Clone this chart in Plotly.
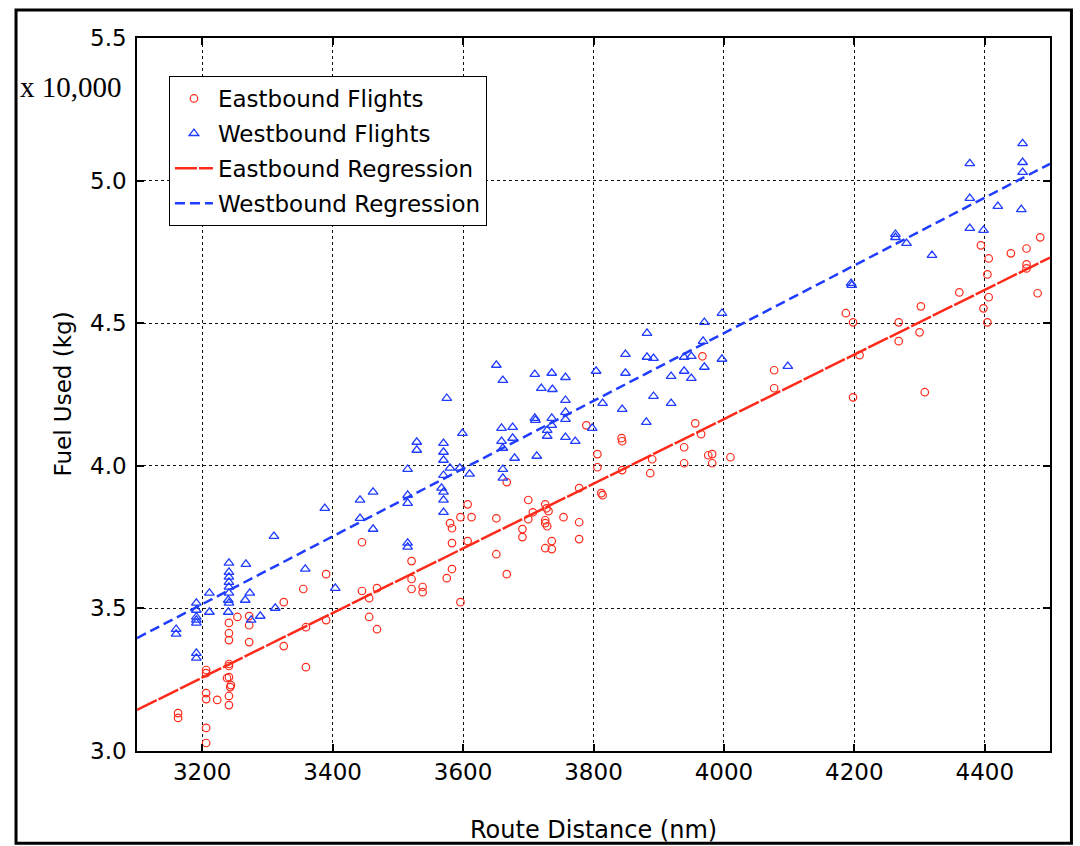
import plotly.graph_objects as go

# Route distance (nm) and fuel used (x 10,000 kg) for each eastbound flight
east_dist = [3325, 3254, 3272, 3272, 3241, 3241, 3241, 3272, 3325, 3241,
             3241, 3206, 3206, 3241, 3238, 3244, 3243, 3206, 3206, 3223,
             3241, 3241, 3163, 3163, 3206, 3206, 3445, 3521, 3390, 3355,
             3445, 3468, 3456, 3521, 3521, 3538, 3538, 3390, 3359, 3456,
             3468, 3359, 3789, 3843, 3844, 3956, 3806, 3806, 3939, 3890,
             3844, 3887, 3939, 3667, 3778, 3812, 3814, 3607, 3700, 3596,
             3613, 3651, 3707, 3726, 3728, 3731, 3700, 3726, 3726, 3729,
             3754, 3778, 3580, 3583, 3583, 3607, 3691, 3691, 3651, 3726,
             3736, 3736, 3778, 3583, 3575, 3667, 3596, 3976, 3982, 3982,
             4010, 3965, 4485, 4394, 4464, 4440, 4406, 4464, 4464, 4404,
             4361, 4481, 4406, 4302, 4398, 4404, 4187, 4198, 4268, 4268,
             4300, 4208, 3967, 4077, 4077, 4198, 4308]
east_fuel = [3.522, 3.470, 3.473, 3.441, 3.449, 3.413, 3.389, 3.382, 3.368, 3.305,
             3.298, 3.284, 3.273, 3.259, 3.256, 3.231, 3.224, 3.203, 3.182, 3.179,
             3.193, 3.161, 3.133, 3.116, 3.081, 3.028, 3.732, 3.666, 3.620, 3.568,
             3.561, 3.571, 3.536, 3.603, 3.568, 3.575, 3.557, 3.459, 3.434, 3.470,
             3.427, 3.294, 4.142, 4.097, 4.086, 4.149, 4.041, 3.995, 4.065, 4.023,
             3.985, 3.974, 4.009, 3.943, 3.922, 3.904, 3.897, 3.865, 3.880, 3.820,
             3.820, 3.816, 3.837, 3.865, 3.851, 3.841, 3.813, 3.809, 3.799, 3.788,
             3.820, 3.802, 3.799, 3.781, 3.729, 3.736, 3.778, 3.750, 3.690, 3.711,
             3.736, 3.708, 3.743, 3.638, 3.606, 3.620, 3.522, 4.037, 4.041, 4.009,
             4.030, 4.111, 4.801, 4.773, 4.762, 4.745, 4.727, 4.706, 4.692, 4.671,
             4.608, 4.605, 4.591, 4.559, 4.552, 4.503, 4.535, 4.503, 4.503, 4.437,
             4.468, 4.388, 4.384, 4.335, 4.272, 4.240, 4.258]

# Route distance (nm) and fuel used (x 10,000 kg) for each westbound flight
west_dist = [3241, 3267, 3241, 3241, 3241, 3241, 3211, 3241, 3240, 3241,
             3273, 3266, 3191, 3191, 3211, 3240, 3191, 3191, 3191, 3275,
             3289, 3312, 3160, 3160, 3191, 3191, 3310, 3358, 3404, 3388,
             3442, 3462, 3442, 3462, 3515, 3515, 3515, 3515, 3882, 3849,
             3882, 3892, 3651, 3661, 3710, 3736, 3757, 3804, 3849, 3919,
             3939, 3950, 3939, 3950, 3720, 3737, 3575, 3757, 3814, 3892,
             3919, 3844, 3757, 3710, 3711, 3736, 3736, 3757, 3881, 3798,
             3599, 3659, 3676, 3729, 3729, 3659, 3676, 3757, 3772, 3529,
             3529, 3570, 3570, 3570, 3661, 3679, 3713, 3580, 3595, 3610,
             3515, 3570, 3661, 3661, 3567, 3570, 3570, 3570, 4458, 4377,
             4458, 4458, 4377, 4420, 4456, 4377, 4398, 4263, 4263, 4280,
             4319, 4195, 4196, 3997, 3970, 3968, 3997, 3970, 4098]
west_fuel = [3.659, 3.655, 3.627, 3.610, 3.592, 3.575, 3.554, 3.554, 3.529, 3.519,
             3.554, 3.529, 3.519, 3.494, 3.487, 3.487, 3.470, 3.459, 3.449, 3.459,
             3.473, 3.501, 3.427, 3.410, 3.343, 3.326, 3.753, 3.638, 3.571, 3.851,
             3.880, 3.908, 3.816, 3.778, 3.897, 3.869, 3.729, 3.715, 4.465, 4.391,
             4.381, 4.377, 4.353, 4.300, 4.321, 4.325, 4.310, 4.332, 4.325, 4.314,
             4.381, 4.384, 4.332, 4.307, 4.272, 4.268, 4.237, 4.230, 4.219, 4.244,
             4.219, 4.198, 4.188, 4.167, 4.160, 4.167, 4.142, 4.163, 4.153, 4.132,
             4.114, 4.132, 4.135, 4.125, 4.104, 4.086, 4.097, 4.100, 4.086, 4.083,
             4.055, 4.079, 4.048, 4.020, 4.062, 4.027, 4.034, 3.992, 3.992, 3.971,
             3.988, 3.967, 3.988, 3.957, 3.922, 3.908, 3.880, 3.837, 5.130, 5.060,
             5.064, 5.029, 4.938, 4.910, 4.899, 4.833, 4.826, 4.812, 4.801, 4.780,
             4.738, 4.640, 4.633, 4.535, 4.503, 4.437, 4.374, 4.346, 4.349]

# Fitted regression lines, evaluated at the ends of the distance axis
reg_dist = [3100, 4500]
east_reg_fuel = [3.144, 4.730]
west_reg_fuel = [3.396, 5.059]

x_ticks = [3200, 3400, 3600, 3800, 4000, 4200, 4400]
y_ticks = [3.0, 3.5, 4.0, 4.5, 5.0, 5.5]

RED = "#ff2a1a"
BLUE = "#1f3cff"
SANS = "DejaVu Sans"

fig = go.Figure()

fig.add_trace(go.Scatter(
    x=east_dist, y=east_fuel, mode="markers", name="Eastbound Flights",
    legendgroup="e1",
    marker=dict(symbol="circle-open", size=7.5, color=RED, line=dict(width=1.2, color=RED)),
))
fig.add_trace(go.Scatter(
    x=west_dist, y=west_fuel, mode="markers", name="Westbound Flights",
    legendgroup="w1",
    marker=dict(symbol="triangle-up-open", size=8.5, color=BLUE, line=dict(width=1.3, color=BLUE)),
))
fig.add_trace(go.Scatter(
    x=reg_dist, y=east_reg_fuel, mode="lines", name="Eastbound Regression",
    legendgroup="e2",
    line=dict(color=RED, width=2.5, dash="22px,2px"),
))
fig.add_trace(go.Scatter(
    x=reg_dist, y=west_reg_fuel, mode="lines", name="Westbound Regression",
    legendgroup="w2",
    line=dict(color=BLUE, width=2.5, dash="10px,5px"),
))

axis_common = dict(
    showgrid=True, gridcolor="#111111", griddash="dot", gridwidth=1.2,
    zeroline=False, showline=True, linecolor="black", linewidth=1.5,
    mirror="ticks", ticks="inside", ticklen=7, tickcolor="black", tickwidth=1.5,
    tickfont=dict(family=SANS, size=23, color="black"),
)

fig.update_xaxes(range=[3100, 4500], tickvals=x_ticks,
                 ticktext=[str(v) for v in x_ticks], **axis_common)
fig.update_yaxes(range=[3.0, 5.5], tickvals=y_ticks,
                 ticktext=[f"{v:.1f}" for v in y_ticks], ticklabelstandoff=4,
                 **axis_common)

fig.update_layout(
    width=1080, height=846,
    margin=dict(l=137, r=30, t=38, b=95),
    paper_bgcolor="white", plot_bgcolor="white",
    font=dict(family=SANS, color="black"),
    showlegend=True,
    legend=dict(
        x=0.035, y=0.9467, xanchor="left", yanchor="top",
        bgcolor="white", bordercolor="black", borderwidth=1,
        font=dict(family=SANS, size=23, color="black"),
        tracegroupgap=2, itemwidth=38,
    ),
    annotations=[
        dict(text="Route Distance (nm)", xref="paper", yref="paper",
             x=0.5, y=-0.1108, xanchor="center", yanchor="middle",
             showarrow=False, font=dict(family=SANS, size=24, color="black")),
        dict(text="Fuel Used (kg)", xref="paper", yref="paper",
             x=-0.0821, y=0.5, xanchor="center", yanchor="middle", textangle=-90,
             showarrow=False, font=dict(family=SANS, size=23, color="black")),
        dict(text="x 10,000", xref="paper", yref="paper",
             x=-0.1303, y=0.9313, xanchor="left", yanchor="middle",
             showarrow=False, font=dict(family="Liberation Serif", size=29, color="black")),
    ],
    shapes=[
        dict(type="rect", xref="paper", yref="paper",
             x0=-0.1325, x1=1.0235, y0=-0.1295, y1=1.0393,
             line=dict(color="black", width=3), layer="below"),
    ],
)

fig.write_html("out.html")
